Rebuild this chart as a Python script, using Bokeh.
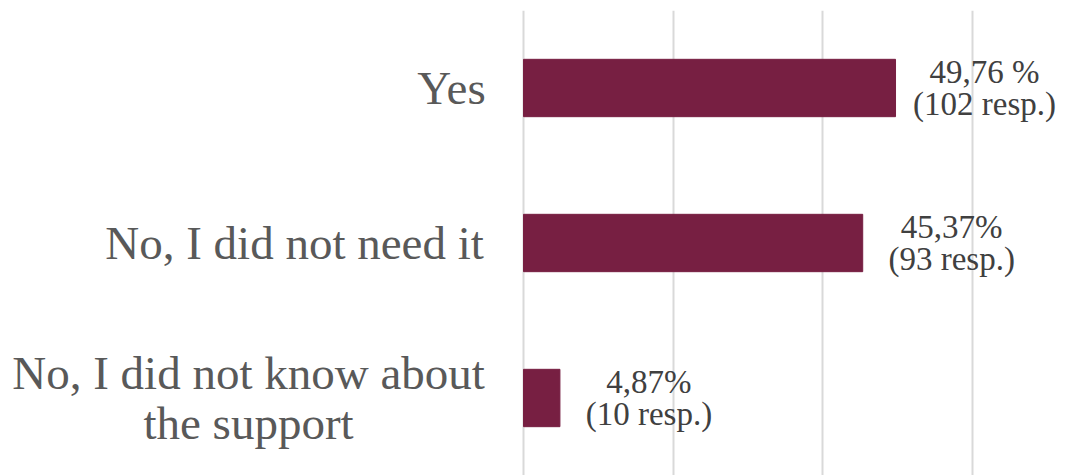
from bokeh.plotting import figure
from bokeh.models import ColumnDataSource, FixedTicker, Range1d, FactorRange
from bokeh.core.properties import value
from bokeh.embed import file_html
from bokeh.resources import INLINE

categories = ["Yes", "No, I did not need it", "No, I did not know about\nthe support"]
percent = [49.76, 45.37, 4.87]
value_labels = ["49,76 %\n(102 resp.)", "45,37%\n(93 resp.)", "4,87%\n(10 resp.)"]
grid_ticks = [0, 20, 40, 60]

# horizontal shift (px) that centres each category label block left of the axis
label_shift = [-72, -229, -275]

src = ColumnDataSource(dict(cat=categories, pct=percent, lab=value_labels,
                            zero=[0] * len(categories), shift=label_shift))

p = figure(width=1066, height=475, output_backend="svg", toolbar_location=None,
           y_range=FactorRange(factors=categories[::-1]),
           x_range=Range1d(-69.96, 72.63),
           min_border_left=0, min_border_right=0, min_border_top=10, min_border_bottom=0)
p.outline_line_color = None
p.xaxis.visible = False
p.yaxis.visible = False
p.ygrid.grid_line_color = None
p.xgrid.ticker = FixedTicker(ticks=grid_ticks)
p.xgrid.grid_line_color = "#D9D9D9"
p.xgrid.grid_line_width = 2
p.y_range.range_padding = 0

p.hbar(y="cat", left="zero", right="pct", height=0.37, source=src,
       fill_color="#771F42", line_color="#771F42")

p.text(x="zero", y="cat", text="cat", source=src, x_offset="shift",
       text_align="center", text_baseline="middle",
       text_font=value("Liberation Serif"), text_font_size="47px",
       text_color="#595959", text_line_height=0.95)

p.text(x="pct", y="cat", text="lab", source=src, x_offset=89,
       text_align="center", text_baseline="middle",
       text_font=value("Liberation Serif"), text_font_size="33px",
       text_color="#404040", text_line_height=0.88)

open("out.html", "w").write(file_html(p, INLINE))
